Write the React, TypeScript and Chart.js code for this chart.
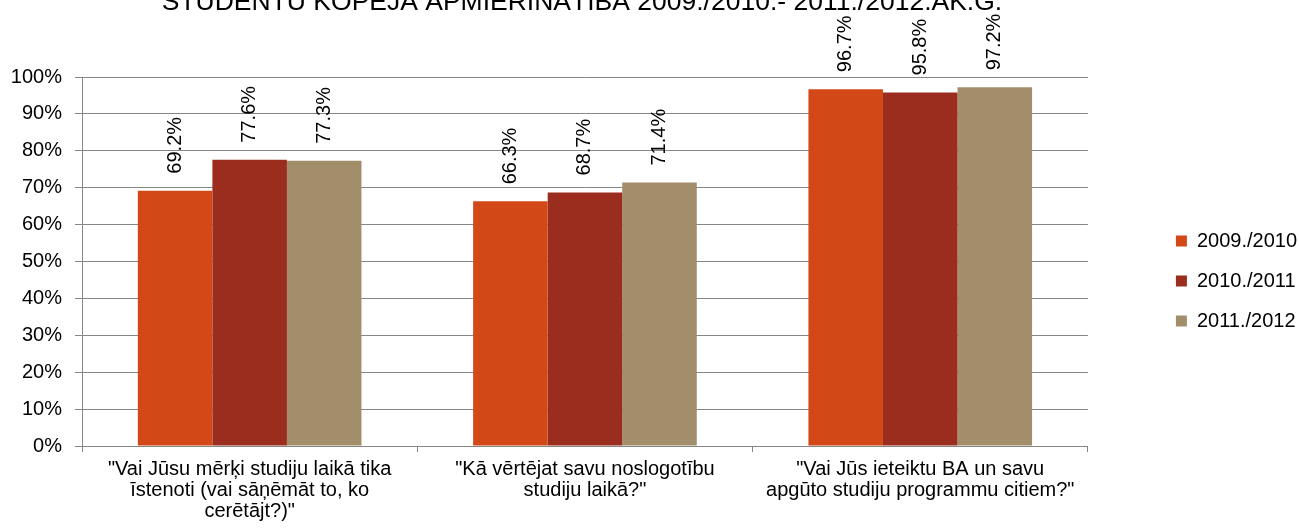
import React, { useEffect, useRef } from 'react';
import { Chart, registerables } from 'chart.js';

Chart.register(...registerables);

const titleText = 'STUDENTU KOPĒJĀ APMIERINĀTĪBA 2009./2010.- 2011./2012.AK.G.';

const categories: string[][] = [
  ['"Vai Jūsu mērķi studiju laikā tika', 'īstenoti (vai sāņēmāt to, ko', 'cerētājt?)"'],
  ['"Kā vērtējat savu noslogotību', 'studiju laikā?"'],
  ['"Vai Jūs ieteiktu BA un savu', 'apgūto studiju programmu citiem?"'],
];

const seriesNames = ['2009./2010', '2010./2011', '2011./2012'];
const values2009 = [69.2, 66.3, 96.7];
const values2010 = [77.6, 68.7, 95.8];
const values2011 = [77.3, 71.4, 97.2];
const seriesColors = ['#D34817', '#9B2D1F', '#A28E6A'];

const yMin = 0;
const yMax = 100;
const yStep = 10;

const FONT = '"Liberation Sans", Arial, sans-serif';

const valueLabelPlugin = {
  id: 'valueLabels',
  afterDatasetsDraw(chart: any) {
    const ctx = chart.ctx;
    ctx.save();
    ctx.font = `20px ${FONT}`;
    ctx.fillStyle = '#000';
    ctx.textAlign = 'left';
    ctx.textBaseline = 'middle';
    chart.data.datasets.forEach((ds: any, i: number) => {
      const meta = chart.getDatasetMeta(i);
      meta.data.forEach((bar: any, j: number) => {
        const v = ds.data[j] as number;
        ctx.save();
        ctx.translate(bar.x, bar.y - 17);
        ctx.rotate(-Math.PI / 2);
        ctx.fillText(v.toFixed(1) + '%', 0, 0);
        ctx.restore();
      });
    });
    ctx.restore();
  },
};

const titlePlugin = {
  id: 'clippedTitle',
  afterDraw(chart: any) {
    const ctx = chart.ctx;
    const area = chart.chartArea;
    ctx.save();
    ctx.font = `26.5px ${FONT}`;
    ctx.fillStyle = '#000';
    ctx.textAlign = 'center';
    ctx.textBaseline = 'alphabetic';
    ctx.fillText(titleText, (area.left + area.right) / 2 - 3, 10);
    ctx.restore();
  },
};

export default function App() {
  const canvasRef = useRef<HTMLCanvasElement | null>(null);

  useEffect(() => {
    if (!canvasRef.current) return;
    const gridColor = '#868686';
    const chart = new Chart(canvasRef.current, {
      type: 'bar',
      data: {
        labels: categories,
        datasets: [
          { label: seriesNames[0], data: values2009, backgroundColor: seriesColors[0], borderWidth: 0 },
          { label: seriesNames[1], data: values2010, backgroundColor: seriesColors[1], borderWidth: 0 },
          { label: seriesNames[2], data: values2011, backgroundColor: seriesColors[2], borderWidth: 0 },
        ],
      },
      options: {
        animation: false,
        responsive: true,
        maintainAspectRatio: false,
        layout: { padding: { top: 33, left: 0, right: -8, bottom: 0 } },
        datasets: {
          bar: { categoryPercentage: 0.667, barPercentage: 1 },
        },
        plugins: {
          title: { display: false },
          tooltip: { enabled: false },
          legend: {
            display: true,
            position: 'right',
            align: 'center',
            labels: {
              boxWidth: 11,
              boxHeight: 11,
              padding: 20,
              color: '#000',
              font: { family: FONT, size: 20 },
            },
          },
        },
        scales: {
          x: {
            offset: true,
            grid: {
              offset: true,
              drawOnChartArea: false,
              drawTicks: true,
              tickLength: 6,
              color: gridColor,
              lineWidth: 1,
            },
            border: { display: true, color: gridColor, width: 1 },
            ticks: {
              color: '#000',
              maxRotation: 0,
              minRotation: 0,
              autoSkip: false,
              padding: 7,
              font: { family: FONT, size: 20, lineHeight: 1.05 },
            },
            afterFit(scale: any) {
              scale.height = 83;
            },
          },
          y: {
            min: yMin,
            max: yMax,
            grid: {
              color: gridColor,
              lineWidth: 1,
              tickLength: 7,
              drawTicks: true,
            },
            border: { display: true, color: gridColor, width: 1 },
            ticks: {
              stepSize: yStep,
              color: '#000',
              padding: 13,
              font: { family: FONT, size: 20 },
              callback: (v: any) => `${v}%`,
            },
            afterFit(scale: any) {
              scale.width = 82;
            },
          },
          gapRight: {
            type: 'linear',
            position: 'right',
            display: true,
            grid: { display: false, drawTicks: false },
            border: { display: false },
            ticks: { display: false },
            afterFit(scale: any) {
              scale.width = 68;
            },
          },
          gapTop: {
            type: 'linear',
            position: 'top',
            display: true,
            grid: { display: false, drawTicks: false },
            border: { display: false },
            ticks: { display: false },
            afterFit(scale: any) {
              scale.height = 44;
            },
          },
        },
      } as any,
      plugins: [valueLabelPlugin, titlePlugin],
    });
    return () => chart.destroy();
  }, []);

  return (
    <div style={{ position: 'fixed', left: 0, top: 0, width: 1299, height: 529, background: '#fff' }}>
      <canvas ref={canvasRef} />
    </div>
  );
}
